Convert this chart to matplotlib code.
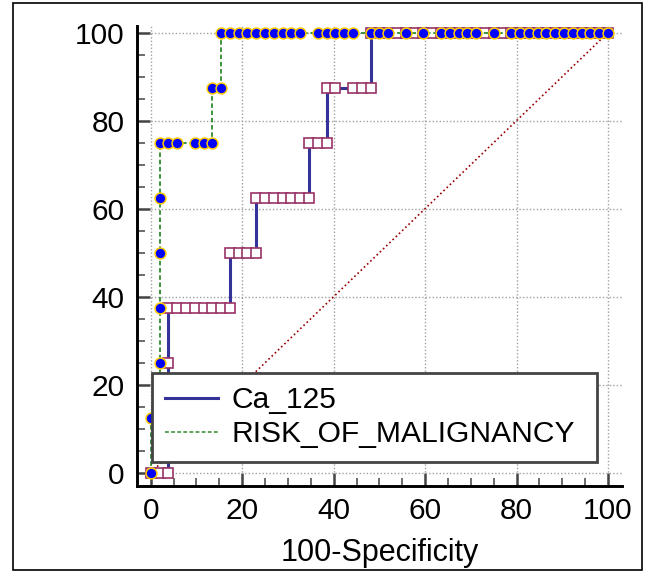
import matplotlib
matplotlib.use("Agg")
import matplotlib.pyplot as plt
from matplotlib.lines import Line2D
from matplotlib.patches import Rectangle
from matplotlib.ticker import MultipleLocator

plt.rcParams['font.family'] = ['Liberation Sans', 'DejaVu Sans']

# ROC points (100-Specificity, Sensitivity)
ca125_fpr = [0, 1.92, 3.85, 3.85, 3.85, 3.85, 5.77, 7.69, 9.62, 11.54, 13.46, 15.38,
             17.31, 17.31, 19.23, 21.15, 23.08, 23.08, 25.0, 26.92, 28.85, 30.77,
             32.69, 34.62, 34.62, 36.54, 38.46, 38.46, 40.38, 44.23, 46.15, 48.08,
             48.08, 50.0, 51.92, 53.85, 55.77, 57.69, 59.62, 61.54, 63.46, 65.38,
             67.31, 69.23, 71.15, 73.08, 75.0, 76.92, 78.85, 80.77, 82.69, 84.62,
             86.54, 88.46, 90.38, 92.31, 94.23, 96.15, 98.08, 100]
ca125_tpr = [0, 0, 0, 12.5, 25, 37.5, 37.5, 37.5, 37.5, 37.5, 37.5, 37.5,
             37.5, 50, 50, 50, 50, 62.5, 62.5, 62.5, 62.5, 62.5,
             62.5, 62.5, 75, 75, 75, 87.5, 87.5, 87.5, 87.5, 87.5,
             100, 100, 100, 100, 100, 100, 100, 100, 100, 100,
             100, 100, 100, 100, 100, 100, 100, 100, 100, 100,
             100, 100, 100, 100, 100, 100, 100, 100]

rmi_fpr = [0, 0, 1.92, 1.92, 1.92, 1.92, 1.92, 1.92, 3.85, 5.77, 9.62, 11.54,
           13.46, 13.46, 15.38, 15.38, 17.31, 19.23, 21.15, 23.08, 25.0, 26.92,
           28.85, 30.77, 32.69, 36.54, 38.46, 40.38, 42.31, 44.23, 48.08, 50.0,
           51.92, 55.77, 59.62, 63.46, 65.38, 67.31, 69.23, 71.15, 75.0, 78.85,
           80.77, 82.69, 84.62, 86.54, 88.46, 90.38, 92.31, 94.23, 96.15, 98.08, 100]
rmi_tpr = [0, 12.5, 12.5, 25, 37.5, 50, 62.5, 75, 75, 75, 75, 75,
           75, 87.5, 87.5, 100, 100, 100, 100, 100, 100, 100,
           100, 100, 100, 100, 100, 100, 100, 100, 100, 100,
           100, 100, 100, 100, 100, 100, 100, 100, 100, 100,
           100, 100, 100, 100, 100, 100, 100, 100, 100, 100, 100]

ref_line = [0, 100]
ticks = [0, 20, 40, 60, 80, 100]

fig = plt.figure(figsize=(6.5, 5.71), dpi=100)
ax = fig.add_axes([0.2108, 0.1489, 0.7457, 0.8056])

# border round the whole picture
fig.patches.append(Rectangle((0.02, 0.002), 0.968, 0.993, transform=fig.transFigure,
                             fill=False, edgecolor='black', linewidth=1.2))

ax.plot(ref_line, ref_line, color='#990000', linestyle=':', linewidth=1.2, zorder=2.2)

ax.plot(ca125_fpr, ca125_tpr, color='#333399', linewidth=2.2, zorder=2.5)
ax.plot(ca125_fpr, ca125_tpr, linestyle='none', marker='s', markersize=7.6,
        markerfacecolor='white', markeredgecolor='#993366', markeredgewidth=1.2, zorder=2.6)

ax.plot(rmi_fpr, rmi_tpr, color='#2e8b2e', linestyle=(0, (2.5, 1.5)), linewidth=1.3, zorder=2.7)
ax.plot(rmi_fpr, rmi_tpr, linestyle='none', marker='o', markersize=7.8,
        markerfacecolor='#0000ff', markeredgecolor='#ffcc00', markeredgewidth=1.1, zorder=2.8)

ax.set_xlim(-3, 103)
ax.set_ylim(-3, 101.5)
ax.set_xticks(ticks)
ax.set_yticks(ticks)
ax.xaxis.set_minor_locator(MultipleLocator(5))
ax.yaxis.set_minor_locator(MultipleLocator(5))
ax.grid(True, which='major', color='#a0a0a0', linestyle=(0, (1, 1.5)), linewidth=1.0, zorder=1)

for s in ['top', 'right']:
    ax.spines[s].set_visible(False)
for s in ['left', 'bottom']:
    ax.spines[s].set_linewidth(2.1)
    ax.spines[s].set_color('black')

ax.tick_params(which='major', direction='in', length=9.5, width=1.8, color='#444444',
               labelsize=21.5, pad=9)
ax.tick_params(which='minor', direction='in', length=5.8, width=1.1, color='#444444')
ax.tick_params(axis='x', pad=8)

ax.set_xlabel('100-Specificity', fontsize=22, labelpad=9)

handles = [Line2D([], [], color='#333399', linewidth=2.2),
           Line2D([], [], color='#2e8b2e', linestyle=(0, (2.5, 1.5)), linewidth=1.1)]
leg = ax.legend(handles, ['Ca_125', 'RISK_OF_MALIGNANCY'], loc='lower left',
                bbox_to_anchor=(0.0303, 0.0528, 0.918, 0.19), mode='expand',
                borderaxespad=0, fontsize=21.6, fancybox=False, framealpha=1,
                handlelength=1.75, handletextpad=0.45, labelspacing=0.2, borderpad=0.45)
leg.get_frame().set_edgecolor('#444444')
leg.get_frame().set_linewidth(2.0)
leg.set_zorder(5)

fig.savefig('out.png', dpi=100)
